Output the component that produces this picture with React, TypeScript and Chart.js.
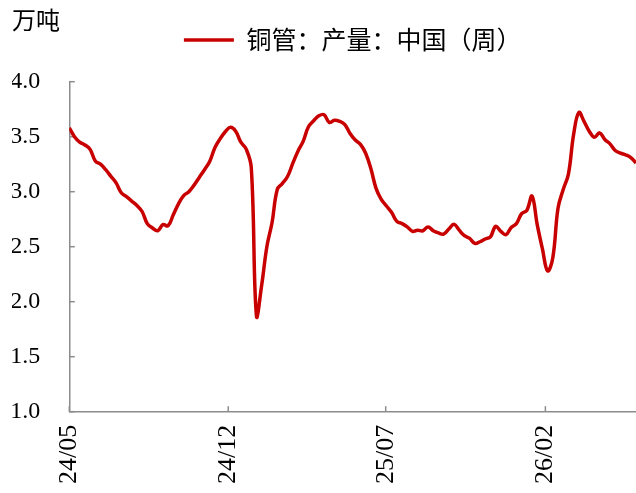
import React, { useEffect, useRef } from "react";
import { Chart, registerables } from "chart.js";

Chart.register(...registerables);

// ---- data ----
const unitLabel = "万吨";
const seriesLabel = "铜管：产量：中国（周）";
// tick labels and their positions (days after 2024-05-01)
const tickLabels = ["24/05", "24/12", "25/07", "26/02"];
const tickDays = [0, 214, 426, 641];
const weekStepDays = 7;
const yTickValues = [1.0, 1.5, 2.0, 2.5, 3.0, 3.5, 4.0];

// weekly output, 10k tonnes, starting first week of 2024-05
const weeklyOutput = [
  3.58, 3.50, 3.45, 3.425, 3.385, 3.28, 3.25, 3.20, 3.14, 3.08,
  2.99, 2.955, 2.915, 2.875, 2.82, 2.71, 2.67, 2.645, 2.70, 2.69,
  2.79, 2.89, 2.965, 3.00, 3.06, 3.13, 3.20, 3.275, 3.40, 3.48,
  3.545, 3.585, 3.55, 3.45, 3.39, 3.22, 1.87, 2.15, 2.50, 2.72,
  3.02, 3.075, 3.14, 3.26, 3.37, 3.46, 3.59, 3.645, 3.69, 3.70,
  3.63, 3.65, 3.64, 3.61, 3.53, 3.47, 3.43, 3.35, 3.21, 3.03,
  2.93, 2.87, 2.81, 2.73, 2.71, 2.68, 2.64, 2.65, 2.645, 2.68,
  2.645, 2.625, 2.615, 2.66, 2.705, 2.65, 2.60, 2.575, 2.53, 2.545,
  2.57, 2.59, 2.685, 2.64, 2.61, 2.675, 2.71, 2.80, 2.83, 2.96,
  2.70, 2.48, 2.28, 2.40, 2.85, 3.02, 3.16, 3.52, 3.72, 3.64,
  3.55, 3.495, 3.535, 3.475, 3.435, 3.375, 3.35, 3.335, 3.31, 3.26,
];

const lineColor = "#C80000";
const axisColor = "#8c8c8c";
const serif = "'Liberation Serif', 'Times New Roman', serif";
const cjk = "'Noto Sans CJK SC', 'Noto Sans', sans-serif";

const innerTicks = {
  id: "innerTicks",
  beforeDatasetsDraw(chart: any) {
    const { ctx, chartArea, scales } = chart;
    ctx.save();
    ctx.strokeStyle = axisColor;
    ctx.lineWidth = 1.5;
    const ys = scales.y;
    ys.ticks.forEach((_t: any, i: number) => {
      const py = ys.getPixelForTick(i);
      ctx.beginPath();
      ctx.moveTo(chartArea.left, py);
      ctx.lineTo(chartArea.left + 5.5, py);
      ctx.stroke();
    });
    const xs = scales.x;
    xs.ticks.forEach((_t: any, i: number) => {
      const px = xs.getPixelForTick(i);
      ctx.beginPath();
      ctx.moveTo(px, chartArea.bottom);
      ctx.lineTo(px, chartArea.bottom - 5.5);
      ctx.stroke();
    });
    ctx.restore();
  },
};

const legendGap = {
  id: "legendGap",
  beforeLayout(chart: any) {
    const lg = chart.legend;
    if (lg && !lg.__gapPatched) {
      const base = lg.fit;
      lg.fit = function () {
        base.call(this);
        this.height += 19.3;
      };
      lg.__gapPatched = true;
    }
  },
};

export default function App() {
  const canvasRef = useRef<HTMLCanvasElement | null>(null);

  useEffect(() => {
    if (!canvasRef.current) return;
    const points = weeklyOutput.map((v, i) => ({ x: i * weekStepDays, y: v }));
    const lastDay = (weeklyOutput.length - 1) * weekStepDays;
    const chart = new Chart(canvasRef.current, {
      type: "line",
      data: {
        datasets: [
          {
            label: seriesLabel,
            data: points,
            borderColor: lineColor,
            backgroundColor: lineColor,
            borderWidth: 3.5,
            pointRadius: 0,
            tension: 0.4,
          },
        ],
      },
      plugins: [innerTicks, legendGap],
      options: {
        animation: false,
        responsive: true,
        maintainAspectRatio: false,
        devicePixelRatio: 1,
        layout: { padding: { left: 12, right: 0, top: 0, bottom: 0 } },
        plugins: {
          tooltip: { enabled: false },
          title: {
            display: true,
            text: unitLabel,
            align: "start",
            color: "#000",
            font: { family: cjk, size: 24, weight: "normal", lineHeight: 0.6 },
            padding: { top: 13, bottom: 0 },
          },
          legend: {
            display: true,
            position: "top",
            fullSize: false,
            labels: {
              usePointStyle: true,
              pointStyle: "line",
              pointStyleWidth: 50,
              padding: 0,
              color: "#000",
              font: { family: cjk, size: 25 },
            },
          },
        },
        scales: {
          x: {
            type: "linear",
            min: 0,
            max: lastDay,
            grid: { display: false, drawTicks: false, tickLength: 0 },
            border: { display: true, color: axisColor, width: 1.5 },
            afterBuildTicks: (scale: any) => {
              scale.ticks = tickDays.map((v) => ({ value: v }));
            },
            afterFit: (scale: any) => {
              scale.height = 81.3;
            },
            ticks: {
              autoSkip: false,
              minRotation: 90,
              maxRotation: 90,
              padding: 13,
              color: "#000",
              font: { family: serif, size: 26 },
              callback: (value: any) => {
                const k = tickDays.indexOf(Number(value));
                return k >= 0 ? tickLabels[k] : "";
              },
            },
          },
          y: {
            min: yTickValues[0],
            max: yTickValues[yTickValues.length - 1],
            grid: { display: false, drawTicks: false, tickLength: 0 },
            border: { display: true, color: axisColor, width: 1.5 },
            afterFit: (scale: any) => {
              scale.width = 57.3;
            },
            ticks: {
              stepSize: 0.5,
              padding: 29,
              color: "#000",
              font: { family: serif, size: 24 },
              callback: (value: any) => Number(value).toFixed(1),
            },
          },
        },
      },
    } as any);
    return () => chart.destroy();
  }, []);

  return (
    <div style={{ position: "fixed", left: 0, top: 0, width: 636, height: 493, background: "#fff" }}>
      <canvas ref={canvasRef} />
    </div>
  );
}
